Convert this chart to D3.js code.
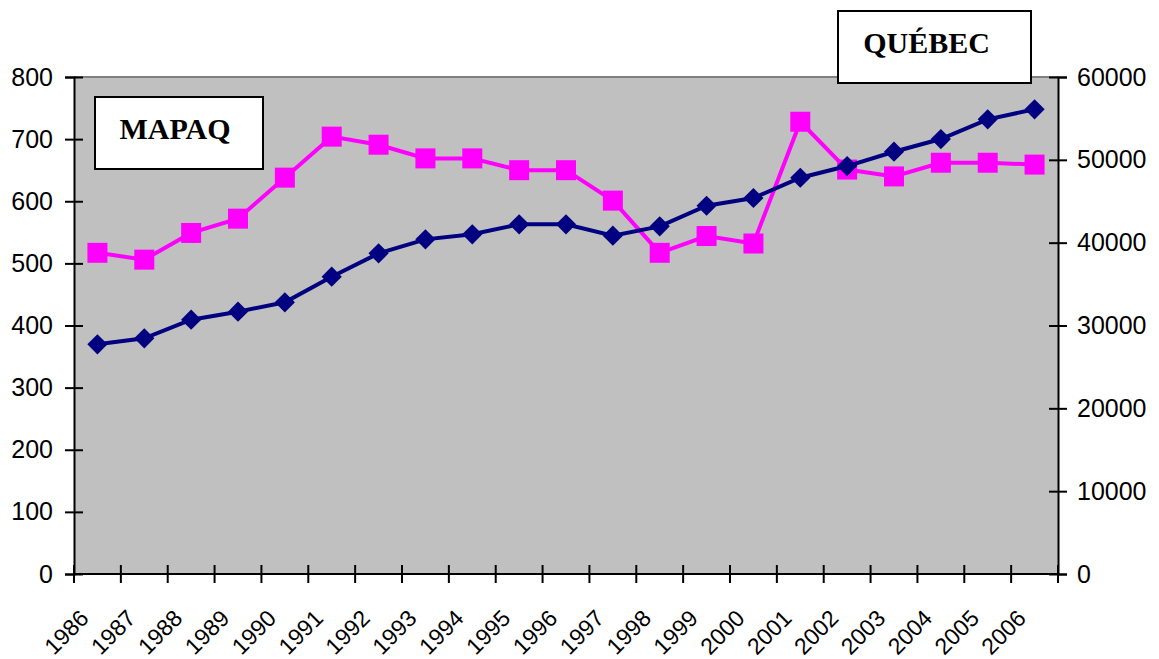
<!DOCTYPE html>
<html>
<head>
<meta charset="utf-8">
<script src="https://cdn.jsdelivr.net/npm/d3@7"></script>
<style>
  body { margin: 0; background: #fff; }
  svg text { font-family: Arial, "Liberation Sans", sans-serif; }
</style>
</head>
<body>
<svg id="chart" width="1159" height="659"></svg>
<script>
const years = ['1986','1987','1988','1989','1990','1991','1992','1993','1994','1995','1996',
  '1997','1998','1999','2000','2001','2002','2003','2004','2005','2006'];
// MAPAQ, left axis
const mapaq = [517, 506, 549, 572, 638, 704, 691, 669, 669, 650, 650,
  601, 517, 544, 532, 728, 651, 640, 662, 662, 659];
// Québec, right axis
const quebec = [27730, 28450, 30700, 31670, 32800, 35890, 38710, 40400, 41010, 42210, 42210,
  40840, 41970, 44460, 45390, 47840, 49250, 50980, 52510, 54890, 56100];
const leftTicks = [0, 100, 200, 300, 400, 500, 600, 700, 800];
const rightTicks = [0, 10000, 20000, 30000, 40000, 50000, 60000];

const svg = d3.select('#chart');
const plotL = 74, plotR = 1058, plotT = 77, plotB = 574;

const x = d3.scaleBand().domain(years).range([plotL, plotR]);
const yL = d3.scaleLinear().domain([0, 800]).range([plotB, plotT]);
const yR = d3.scaleLinear().domain([0, 60000]).range([plotB, plotT]);

// plot area
svg.append('rect')
  .attr('x', plotL).attr('y', plotT)
  .attr('width', plotR - plotL).attr('height', plotB - plotT)
  .attr('fill', '#c0c0c0');
svg.append('line')
  .attr('x1', plotL).attr('x2', plotR).attr('y1', plotT).attr('y2', plotT)
  .attr('stroke', '#808080').attr('stroke-width', 2);

// axes
let gl = svg.append('g').attr('transform', `translate(${plotL},0)`)
  .call(d3.axisLeft(yL).tickValues(leftTicks).tickSize(9).tickPadding(12));
let gr = svg.append('g').attr('transform', `translate(${plotR},0)`)
  .call(d3.axisRight(yR).tickValues(rightTicks).tickFormat(d3.format('d')).tickSize(9).tickPadding(10));
[gl, gr].forEach(g => {
  g.select('.domain').attr('stroke', '#000').attr('stroke-width', 2);
  g.selectAll('.tick line').attr('stroke', '#000').attr('stroke-width', 2);
  g.selectAll('.tick text').attr('font-size', 25).attr('fill', '#000');
});
// cross ticks
gl.selectAll('.tick line').attr('x1', 9);
gr.selectAll('.tick line').attr('x1', -9);

// bottom axis with ticks at category edges
svg.append('line')
  .attr('x1', plotL).attr('x2', plotR).attr('y1', plotB).attr('y2', plotB)
  .attr('stroke', '#000').attr('stroke-width', 2);
svg.append('g').selectAll('line')
  .data(years.concat(['end']))
  .join('line')
  .attr('x1', (d, i) => plotL + i * x.bandwidth())
  .attr('x2', (d, i) => plotL + i * x.bandwidth())
  .attr('y1', plotB - 9).attr('y2', plotB + 9)
  .attr('stroke', '#000').attr('stroke-width', 2);
svg.append('g').selectAll('text')
  .data(years)
  .join('text')
  .attr('transform', d => `translate(${x(d) + x.bandwidth() / 2 - 19},${plotB + 34}) rotate(-45)`)
  .attr('text-anchor', 'end')
  .attr('dy', '0.72em')
  .attr('font-size', 23)
  .text(d => d);

const cx = d => x(d) + x.bandwidth() / 2;

// MAPAQ series
svg.append('path')
  .datum(mapaq)
  .attr('fill', 'none')
  .attr('stroke', '#ff00ff')
  .attr('stroke-width', 4)
  .attr('d', d3.line().x((d, i) => cx(years[i])).y(d => yL(d)));
svg.append('g').selectAll('rect')
  .data(mapaq)
  .join('rect')
  .attr('x', (d, i) => cx(years[i]) - 10)
  .attr('y', d => yL(d) - 10)
  .attr('width', 20).attr('height', 20)
  .attr('fill', '#ff00ff');

// Québec series
svg.append('path')
  .datum(quebec)
  .attr('fill', 'none')
  .attr('stroke', '#000080')
  .attr('stroke-width', 4)
  .attr('d', d3.line().x((d, i) => cx(years[i])).y(d => yR(d)));
svg.append('g').selectAll('path')
  .data(quebec)
  .join('path')
  .attr('d', d3.symbol(d3.symbolDiamond2, 260))
  .attr('transform', (d, i) => `translate(${cx(years[i])},${yR(d)})`)
  .attr('fill', '#000080');

// label boxes
function labelBox(bx, by, w, h, txt, shift) {
  svg.append('rect')
    .attr('x', bx).attr('y', by).attr('width', w).attr('height', h)
    .attr('fill', '#fff').attr('stroke', '#000').attr('stroke-width', 2);
  svg.append('text')
    .attr('x', bx + w / 2 + shift).attr('y', by + h / 2 + 6)
    .attr('text-anchor', 'middle')
    .style('font-family', '"Liberation Serif", "Times New Roman", serif')
    .attr('font-weight', 'bold')
    .attr('font-size', 30)
    .text(txt);
}
labelBox(95, 97, 168, 72, 'MAPAQ', -4);
labelBox(838, 11, 193, 72, 'QUÉBEC', -8);
</script>
</body>
</html>
